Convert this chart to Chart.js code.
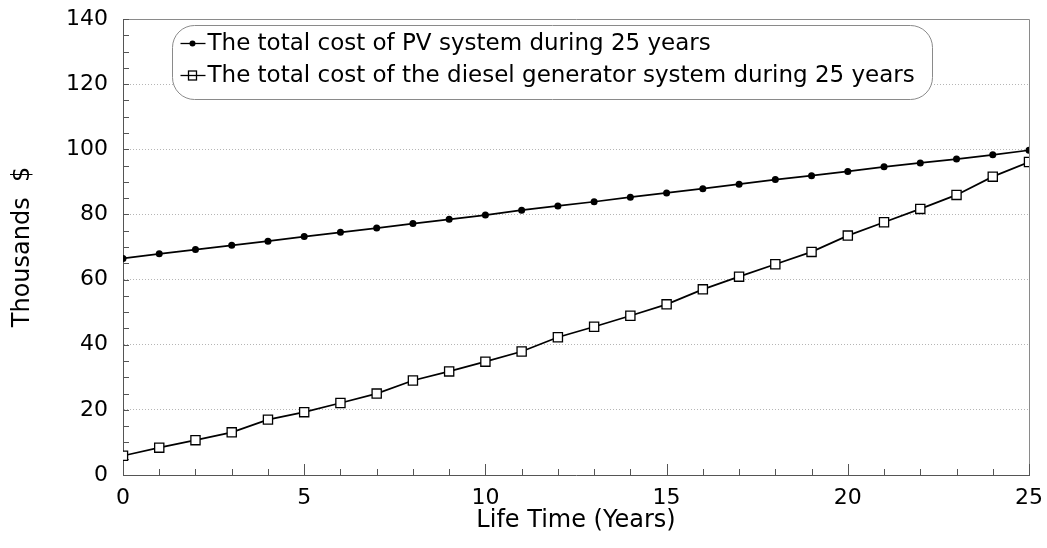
<!DOCTYPE html>
<html>
<head>
<meta charset="utf-8">
<script src="https://cdn.jsdelivr.net/npm/chart.js@4.4.1/dist/chart.umd.min.js"></script>
<style>
  html, body { margin: 0; background: #fff; }
  #wrap { width: 1047px; height: 548px; }
</style>
</head>
<body>
<div id="wrap"><canvas id="costChart"></canvas></div>
<script>
// ===== data (thousands $) =====
const years = [0, 1, 2, 3, 4, 5, 6, 7, 8, 9, 10, 11, 12, 13, 14, 15, 16, 17, 18, 19, 20, 21, 22, 23, 24, 25];
const pvCost = [66.5, 67.9, 69.2, 70.5, 71.8, 73.2, 74.5, 75.8, 77.2, 78.5, 79.8, 81.3, 82.6,
  83.9, 85.3, 86.6, 87.9, 89.3, 90.7, 91.9, 93.2, 94.6, 95.8, 97.0, 98.3, 99.7];
const dieselCost = [5.9, 8.4, 10.7, 13.1, 17.0, 19.3, 22.1, 25.0, 29.0, 31.8, 34.8, 37.9, 42.3,
  45.5, 48.9, 52.4, 57.0, 60.9, 64.7, 68.5, 73.5, 77.6, 81.7, 86.0, 91.6, 96.1];
const seriesLabels = [
  "The total cost of PV system during 25 years",
  "The total cost of the diesel generator system during 25 years"
];
const yTicks = [0, 20, 40, 60, 80, 100, 120, 140];
const xTicks = [0, 5, 10, 15, 20, 25];

const FONT = "'DejaVu Sans', 'Liberation Sans', sans-serif";
const toPoints = (vals) => vals.map((v, i) => ({ x: years[i], y: v }));

// frame + small inward tick marks
const tickMarks = {
  id: "tickMarks",
  beforeDatasetsDraw(chart) {
    const { ctx, chartArea: a, scales: { x, y } } = chart;
    ctx.save();
    ctx.strokeStyle = "#8a8a8a";
    ctx.lineWidth = 1;
    ctx.beginPath();
    ctx.moveTo(a.left, a.top + 0.5);
    ctx.lineTo(a.right + 0.5, a.top + 0.5);
    ctx.lineTo(a.right + 0.5, a.bottom);
    ctx.stroke();

    ctx.strokeStyle = "#555";
    ctx.beginPath();
    years.forEach((yr) => {
      const px = Math.round(x.getPixelForValue(yr)) + 0.5;
      const len = yr % 5 === 0 ? 11 : 6;
      ctx.moveTo(px, a.bottom);
      ctx.lineTo(px, a.bottom - len);
    });
    for (let v = y.min; v <= y.max; v += 5) {
      const py = Math.round(y.getPixelForValue(v)) + 0.5;
      ctx.moveTo(a.left, py);
      ctx.lineTo(a.left + 6, py);
    }
    ctx.stroke();
    ctx.restore();
  }
};

// rounded legend box inside the plot
const boxLegend = {
  id: "boxLegend",
  afterDraw(chart) {
    const { ctx, chartArea: a } = chart;
    const bx = a.left + 49.5, by = a.top + 6.5, bw = 760, bh = 74;
    ctx.save();
    ctx.beginPath();
    ctx.roundRect(bx, by, bw, bh, 22);
    ctx.fillStyle = "#fff";
    ctx.fill();
    ctx.strokeStyle = "#8a8a8a";
    ctx.lineWidth = 1;
    ctx.stroke();

    ctx.font = "23px " + FONT;
    ctx.textBaseline = "middle";
    chart.data.datasets.forEach((ds, i) => {
      const cy = by + 18 + i * 32;
      const mx = bx + 20;
      ctx.strokeStyle = "#000";
      ctx.lineWidth = 1.3;
      ctx.beginPath();
      ctx.moveTo(bx + 8, cy);
      ctx.lineTo(bx + 33, cy);
      ctx.stroke();
      if (ds.pointStyle === "rect") {
        ctx.fillStyle = "#fff";
        ctx.fillRect(mx - 4, cy - 4.5, 8, 9);
        ctx.strokeRect(mx - 4, cy - 4.5, 8, 9);
        ctx.beginPath();
        ctx.moveTo(mx - 4, cy);
        ctx.lineTo(mx + 4, cy);
        ctx.stroke();
      } else {
        ctx.fillStyle = "#000";
        ctx.beginPath();
        ctx.arc(mx, cy, 3, 0, Math.PI * 2);
        ctx.fill();
      }
      ctx.fillStyle = "#000";
      ctx.fillText(ds.label, bx + 35, cy + 1);
    });
    ctx.restore();
  }
};

new Chart(document.getElementById("costChart"), {
  type: "line",
  data: {
    datasets: [
      {
        label: seriesLabels[0],
        data: toPoints(pvCost),
        borderColor: "#000",
        backgroundColor: "#000",
        borderWidth: 1.7,
        pointStyle: "circle",
        pointRadius: 3.5,
        pointBorderWidth: 0,
        tension: 0
      },
      {
        label: seriesLabels[1],
        data: toPoints(dieselCost),
        borderColor: "#000",
        backgroundColor: "#fff",
        borderWidth: 1.7,
        pointStyle: "rect",
        pointRadius: 6.5,
        pointBorderWidth: 1.3,
        pointBorderColor: "#000",
        tension: 0
      }
    ]
  },
  options: {
    responsive: true,
    maintainAspectRatio: false,
    animation: false,
    layout: { padding: { top: 19, right: 18, bottom: 0, left: 0 } },
    plugins: {
      legend: { display: false },
      tooltip: { enabled: false }
    },
    scales: {
      x: {
        type: "linear",
        min: 0,
        max: 25,
        afterBuildTicks: (s) => { s.ticks = xTicks.map((v) => ({ value: v })); },
        afterFit: (s) => { s.height = 73; s.paddingLeft = 0; s.paddingRight = 0; },
        ticks: { color: "#000", font: { family: FONT, size: 22 }, padding: 10, maxRotation: 0 },
        grid: { display: false, drawTicks: false },
        border: { display: true, color: "#555", width: 1 },
        title: {
          display: true,
          text: "Life Time (Years)",
          color: "#000",
          font: { family: FONT, size: 24 },
          padding: { top: 0, bottom: 13 }
        }
      },
      y: {
        min: 0,
        max: 140,
        afterBuildTicks: (s) => { s.ticks = yTicks.map((v) => ({ value: v })); },
        afterFit: (s) => { s.width = 123; s.paddingTop = 0; s.paddingBottom = 0; },
        ticks: { color: "#000", font: { family: FONT, size: 22 }, padding: 15 },
        grid: { color: "#b5b5b5", lineWidth: 1, drawTicks: false },
        border: { display: true, color: "#555", width: 1, dash: [1, 2] },
        title: {
          display: true,
          text: "Thousands  $",
          color: "#000",
          font: { family: FONT, size: 24 },
          padding: { top: 8, bottom: 0 }
        }
      }
    }
  },
  plugins: [tickMarks, boxLegend]
});
</script>
</body>
</html>
